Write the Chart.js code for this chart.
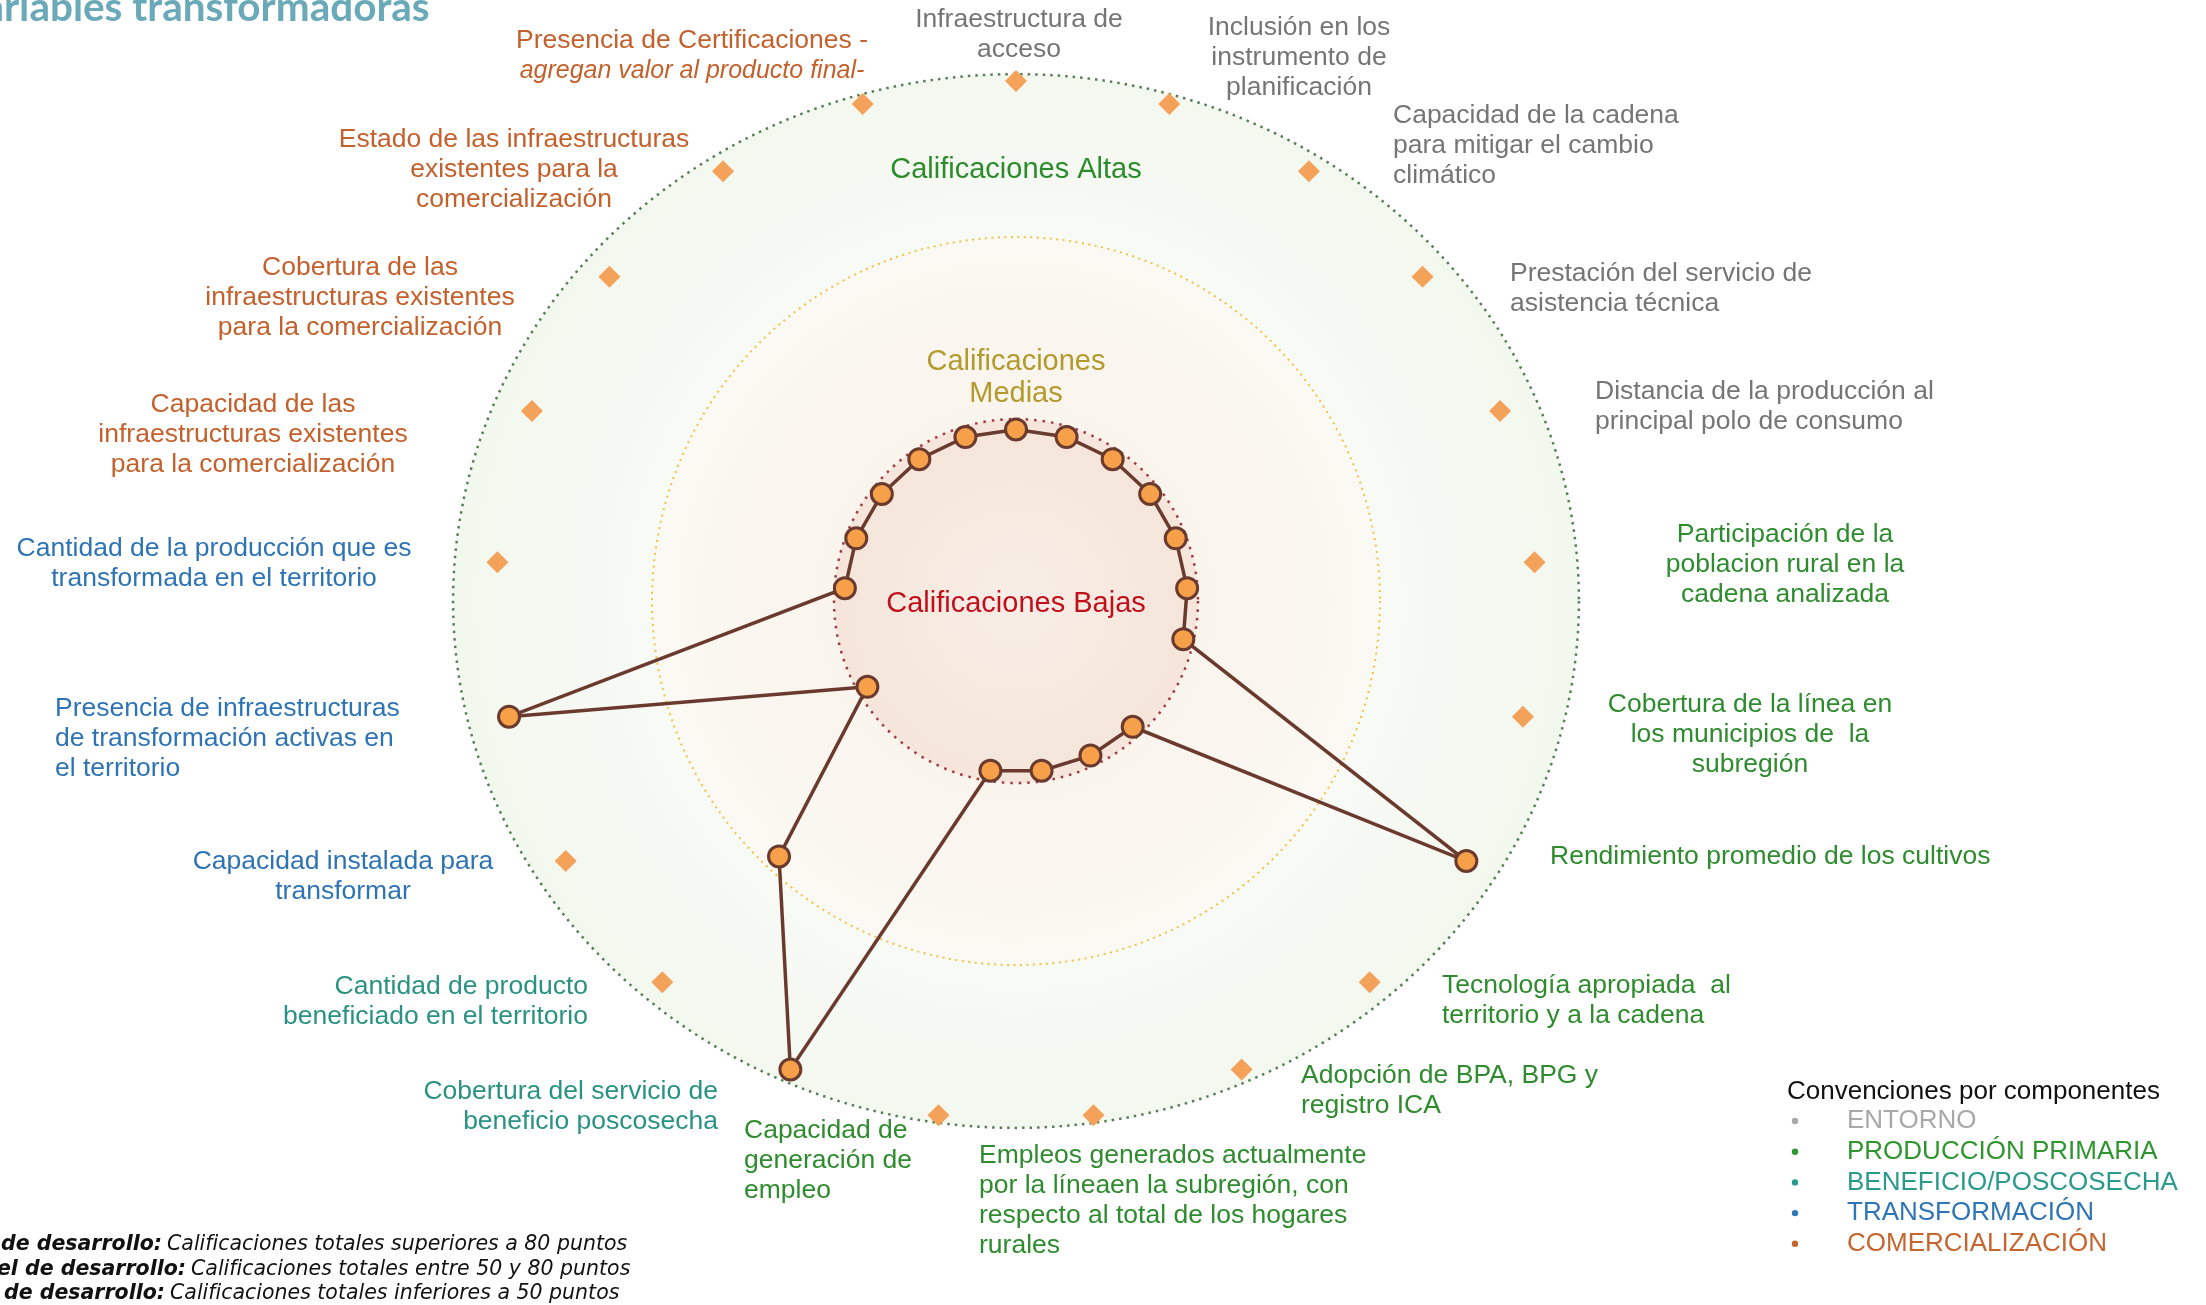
<!DOCTYPE html>
<html lang="es">
<head>
<meta charset="utf-8">
<title>Variables transformadoras</title>
<script src="https://cdn.jsdelivr.net/npm/chart.js@4.4.1/dist/chart.umd.min.js"></script>
<style>
  html, body { margin: 0; padding: 0; background: #fff; }
  #wrap { position: relative; width: 2206px; height: 1305px; }
</style>
</head>
<body>
<div id="wrap"><canvas id="radar"></canvas></div>
<script>
// --- data ---
const categories = [
  ['Infraestructura de', 'acceso'],
  ['Inclusión en los', 'instrumento de', 'planificación'],
  ['Capacidad de la cadena', 'para mitigar el cambio', 'climático'],
  ['Prestación del servicio de', 'asistencia técnica'],
  ['Distancia de la producción al', 'principal polo de consumo'],
  ['Participación de la', 'poblacion rural en la', 'cadena analizada'],
  ['Cobertura de la línea en', 'los municipios de  la', 'subregión'],
  ['Rendimiento promedio de los cultivos'],
  ['Tecnología apropiada  al', 'territorio y a la cadena'],
  ['Adopción de BPA, BPG y', 'registro ICA'],
  ['Empleos generados actualmente', 'por la líneaen la subregión, con', 'respecto al total de los hogares', 'rurales'],
  ['Capacidad de', 'generación de', 'empleo'],
  ['Cobertura del servicio de', 'beneficio poscosecha'],
  ['Cantidad de producto', 'beneficiado en el territorio'],
  ['Capacidad instalada para', 'transformar'],
  ['Presencia de infraestructuras', 'de transformación activas en', 'el territorio'],
  ['Cantidad de la producción que es', 'transformada en el territorio'],
  ['Capacidad de las', 'infraestructuras existentes', 'para la comercialización'],
  ['Cobertura de las', 'infraestructuras existentes', 'para la comercialización'],
  ['Estado de las infraestructuras', 'existentes para la', 'comercialización'],
  ['Presencia de Certificaciones -', 'agregan valor al producto final-']
];
const components = ['ENTORNO', 'PRODUCCIÓN PRIMARIA', 'BENEFICIO/POSCOSECHA', 'TRANSFORMACIÓN', 'COMERCIALIZACIÓN'];
const categoryComponent = [0, 0, 0, 0, 0, 1, 1, 1, 1, 1, 1, 1, 2, 2, 3, 3, 3, 4, 4, 4, 4];
const scores = [33, 33, 33, 33, 33, 33, 33, 100, 33, 33, 33, 33, 100, 67, 33, 100, 33, 33, 33, 33, 33];
const maxScores = [100, 100, 100, 100, 100, 100, 100, 100, 100, 100, 100, 100, 100, 100, 100, 100, 100, 100, 100, 100, 100];
const zoneLimits = [35, 70, 105];
const zoneNames = [['Calificaciones Bajas'], ['Calificaciones', 'Medias'], ['Calificaciones Altas']];
const title = 'Variables transformadoras';
const legendTitle = 'Convenciones por componentes';
const footnotes = [
  ['Alto nivel de desarrollo:', 'Calificaciones totales superiores a 80 puntos'],
  ['Medio nivel de desarrollo:', 'Calificaciones totales entre 50 y 80 puntos'],
  ['Bajo nivel de desarrollo:', 'Calificaciones totales inferiores a 50 puntos']
];

// --- styling ---
const labelColors = ['#757575', '#2E8B2E', '#2A9283', '#2E74B5', '#C4602B'];
const legendColors = ['#A8A8A8', '#2F962F', '#2A9A8C', '#2E75B6', '#C5652F'];
const zoneTextColors = ['#C0101C', '#B39A2C', '#2A8C2A'];
const FONT = "'Liberation Sans', Arial, sans-serif";
const NOTE_FONT = "'DejaVu Sans', Lato, sans-serif";

// label block anchor relative to the radar centre: [align, dx, dy]
const labelLayout = [
  ['center', 3, -566], ['center', 283, -543], ['left', 377, -455], ['left', 494, -312],
  ['left', 579, -194], ['center', 769, -36], ['center', 734, 134], ['left', 534, 256],
  ['left', 426, 400], ['left', 285, 490], ['left', -37, 600], ['left', -272, 560],
  ['right', -298, 506], ['right', -428, 401], ['center', -673, 276], ['left', -961, 138],
  ['center', -802, -37], ['center', -763, -166], ['center', -656, -303], ['center', -502, -431],
  ['center', -324, -545]
];
const italicLines = { 20: [1] };

function drawBlock(ctx, lines, x, yMid, lineH, fontFor) {
  const top = yMid - (lines.length - 1) * lineH / 2;
  lines.forEach((t, k) => {
    if (fontFor) ctx.font = fontFor(k);
    ctx.fillText(t, x, top + k * lineH);
  });
}

// zone fills and outer ring, painted before the scale grid
const zonesPlugin = {
  id: 'zones',
  beforeDraw(chart) {
    const r = chart.scales.r;
    const ctx = chart.ctx;
    const cx = r.xCenter, cy = r.yCenter;
    const rLow = r.getDistanceFromCenterForValue(zoneLimits[0]);
    const rMid = r.getDistanceFromCenterForValue(zoneLimits[1]);
    const rHigh = r.getDistanceFromCenterForValue(zoneLimits[2]);
    ctx.save();
    // high zone (slightly oval in the original)
    ctx.beginPath();
    ctx.ellipse(cx, cy, rHigh * 1.031, rHigh * 0.965, 0, 0, Math.PI * 2);
    let g = ctx.createRadialGradient(cx, cy, rMid, cx, cy, rHigh);
    g.addColorStop(0, '#F8FAF5');
    g.addColorStop(1, '#F3F8EF');
    ctx.fillStyle = g;
    ctx.fill();
    ctx.setLineDash([2.5, 5]);
    ctx.lineWidth = 2.5;
    ctx.strokeStyle = '#587F56';
    ctx.stroke();
    ctx.setLineDash([]);
    // medium zone
    ctx.beginPath();
    ctx.arc(cx, cy, rMid, 0, Math.PI * 2);
    g = ctx.createRadialGradient(cx, cy, rLow, cx, cy, rMid);
    g.addColorStop(0, '#F9F4EC');
    g.addColorStop(1, '#FBF9F3');
    ctx.fillStyle = g;
    ctx.fill();
    // low zone
    ctx.beginPath();
    ctx.arc(cx, cy, rLow, 0, Math.PI * 2);
    g = ctx.createRadialGradient(cx, cy, 0, cx, cy, rLow);
    g.addColorStop(0, '#F8EEE7');
    g.addColorStop(1, '#F5E5DA');
    ctx.fillStyle = g;
    ctx.fill();
    ctx.restore();
  },
  beforeDatasetsDraw(chart) {
    const r = chart.scales.r;
    const ctx = chart.ctx;
    const cx = r.xCenter, cy = r.yCenter;
    ctx.save();
    ctx.textAlign = 'center';
    ctx.textBaseline = 'middle';
    ctx.font = '29px ' + FONT;
    ctx.fillStyle = zoneTextColors[0];
    drawBlock(ctx, zoneNames[0], cx, cy + 3, 32);
    ctx.fillStyle = zoneTextColors[1];
    drawBlock(ctx, zoneNames[1], cx, cy - 223, 32);
    ctx.fillStyle = zoneTextColors[2];
    drawBlock(ctx, zoneNames[2], cx, cy - 431, 32);
    ctx.restore();
  }
};

// category labels, legend, title and notes
const textPlugin = {
  id: 'texts',
  afterDraw(chart) {
    const r = chart.scales.r;
    const ctx = chart.ctx;
    const cx = r.xCenter, cy = r.yCenter;
    ctx.save();
    ctx.textBaseline = 'middle';
    categories.forEach((lines, i) => {
      const [align, dx, dy] = labelLayout[i];
      ctx.textAlign = align;
      ctx.fillStyle = labelColors[categoryComponent[i]];
      const ital = italicLines[i] || [];
      drawBlock(ctx, lines, cx + dx, cy + dy, 30,
        k => (ital.includes(k) ? 'italic 25px ' : '26.5px ') + FONT);
    });

    // legend
    ctx.textAlign = 'left';
    ctx.font = '26px ' + FONT;
    ctx.fillStyle = '#111';
    ctx.fillText(legendTitle, 1787, 1092);
    components.forEach((c, k) => {
      const y = 1121 + k * 30.7;
      ctx.fillStyle = legendColors[k];
      ctx.beginPath();
      ctx.arc(1795, y, 3.2, 0, Math.PI * 2);
      ctx.fill();
      ctx.fillText(c, 1847, y);
    });

    // title, cut by the left and top edges as in the source slide
    ctx.textBaseline = 'alphabetic';
    ctx.font = "bold 40.5px Lato, 'DejaVu Sans', sans-serif";
    ctx.fillStyle = '#6AAAB8';
    const cut = ctx.measureText(title.slice(0, 2)).width - 4;
    ctx.fillText(title, -cut, 21);

    // notes
    ctx.textBaseline = 'middle';
    const noteEnds = [162, 186, 165];
    footnotes.forEach(([head, body], k) => {
      const y = 1245 + k * 24.5;
      ctx.fillStyle = '#111';
      ctx.textAlign = 'right';
      ctx.font = 'italic bold 20.5px ' + NOTE_FONT;
      ctx.fillText(head, noteEnds[k], y);
      ctx.textAlign = 'left';
      ctx.font = 'italic 20.5px ' + NOTE_FONT;
      ctx.fillText(body, noteEnds[k] + 5, y);
    });
    ctx.restore();
  }
};

const ringColors = { 35: '#A23A44', 70: '#F0C244', 105: 'rgba(0,0,0,0)' };

new Chart(document.getElementById('radar'), {
  type: 'radar',
  data: {
    labels: categories,
    datasets: [
      {
        label: 'Calificación',
        data: scores,
        borderColor: '#6B3A2E',
        borderWidth: 3.5,
        backgroundColor: 'rgba(0,0,0,0)',
        fill: false,
        tension: 0,
        pointRadius: 10.5,
        pointBorderWidth: 3,
        pointBackgroundColor: '#F6A14A',
        pointBorderColor: '#6B3A2E'
      },
      {
        label: 'Máximo',
        data: maxScores,
        showLine: false,
        fill: false,
        backgroundColor: 'rgba(0,0,0,0)',
        borderColor: 'rgba(0,0,0,0)',
        pointStyle: 'rectRot',
        pointRadius: 11,
        pointBorderWidth: 0,
        pointBackgroundColor: '#F4A259',
        pointBorderColor: '#F4A259'
      }
    ]
  },
  options: {
    responsive: true,
    maintainAspectRatio: false,
    animation: false,
    events: [],
    layout: { padding: { left: 470, right: 644, top: 55, bottom: 158 } },
    plugins: { legend: { display: false }, tooltip: { enabled: false } },
    scales: {
      r: {
        min: 0,
        max: 105,
        ticks: { stepSize: 35, display: false },
        angleLines: { display: false },
        pointLabels: { display: false },
        grid: {
          circular: true,
          color: c => ringColors[c.tick.value] || 'rgba(0,0,0,0)',
          lineWidth: c => (c.tick.value === 70 ? 2 : 2.5)
        },
        border: { dash: c => (c.tick.value === 70 ? [2, 4.5] : [2.5, 6]) }
      }
    }
  },
  plugins: [zonesPlugin, textPlugin]
});
</script>
</body>
</html>
